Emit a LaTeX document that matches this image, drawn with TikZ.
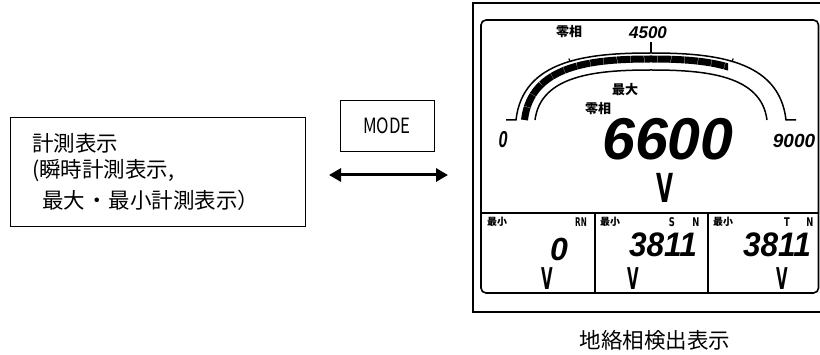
\documentclass[tikz,border=0pt]{standalone}
\usepackage{fontspec}
\usepackage{graphicx}
\usetikzlibrary{arrows.meta}
\setmainfont{Noto Sans CJK JP}
\newfontfamily\jp{Noto Sans CJK JP}
\newfontfamily\lcdfont{Liberation Sans}
\newfontfamily\lcdheavy{DejaVu Sans}
% #1 xscale, #2 size, #3 text  (bold italic digits)
\newcommand\lcdnum[3]{\scalebox{#1}[1]{\fontsize{#2}{#2}\selectfont\lcdfont\bfseries\itshape #3}}
\newcommand\lcdup[3]{\scalebox{#1}[1]{\fontsize{#2}{#2}\selectfont\lcdheavy\bfseries #3}}
\newcommand\lcdjp[3]{\scalebox{#1}[1]{\fontsize{#2}{#2}\selectfont\jp\bfseries #3}}
\newcommand\archpath[2]{(-#1,0) .. controls ({-0.95*#1},{-0.9*#2}) and ({-0.47*#1},{-#2}) .. (0,{-#2}) .. controls ({0.47*#1},{-#2}) and ({0.95*#1},{-0.9*#2}) .. (#1,0)}
\begin{document}
\begin{tikzpicture}[x=1pt,y=-1pt,
  plainbox/.style={draw, line width=0.9pt, inner sep=0pt},
  txt/.style={inner sep=0pt, font=\fontsize{21.5}{21.5}\selectfont\jp},
  lcd/.style={inner sep=0pt},
  frame/.style={line width=1.6pt},
  dblarrow/.style={line width=3pt, {Triangle[length=12pt,width=13pt]}-{Triangle[length=12pt,width=13pt]}},
  arcline/.style={line width=1.5pt},
]
\useasboundingbox (0,0) rectangle (820,355);
% left box
\node[plainbox, minimum width=295pt, minimum height=109pt, anchor=north west] (meas) at (10,117) {};
\node[txt, anchor=west] (t1) at (32,143) {計測表示};
\node[txt, anchor=west] (t2) at (32,171) {(瞬時計測表示,};
\node[txt, anchor=west] (t3) at (42,200) {最大\hspace{1pt}・\hspace{1pt}最小計測表示）};
% MODE
\node[plainbox, minimum width=94pt, minimum height=51pt] (mode) at (387,125.5) {\scalebox{0.8}[1]{\fontsize{21}{21}\selectfont\jp MODE}};
% arrow
\coordinate (al) at (329,175);
\coordinate (ar) at (448,175);
\draw[dblarrow] (al) -- (ar);
% LCD outer frame
\draw[frame] (822,3) -- (473,3) -- (473,312) -- (822,312);
\draw[frame, rounded corners=5pt] (481,20) rectangle (818.5,293);
\draw[frame] (481,213) -- (818.5,213);
\draw[frame] (595,213) -- (595,293);
\draw[frame] (708,213) -- (708,293);
% arc scale
\begin{scope}
  \clip (480,0) rectangle (728,130);
  \begin{scope}[shift={(651,120)}]
    \draw[line width=7pt, dash pattern=on 13pt off 0.5pt] \archpath{126.5}{61};
  \end{scope}
\end{scope}
\begin{scope}[shift={(651,120)}]
  \draw[arcline] (-145,0) -- \archpath{135}{67} -- (145,0);
  \draw[arcline] \archpath{116}{50};
  \draw[line width=2pt] (0,-67) -- (0,-78);
\end{scope}
\draw[line width=1.2pt] (570,61.5) -- (568.8,58.5);
\draw[line width=1.2pt] (732,61.5) -- (733.2,58.5);
% LCD texts (top)
\node[lcd] (zs1) at (569,32) {\lcdjp{1}{13}{零相}};
\node[lcd] (n4500) at (648,33) {\lcdnum{1}{17}{4500}};
\node[lcd] (mx) at (625,90) {\lcdjp{1}{13}{最大}};
\node[lcd] (zs2) at (598,109) {\lcdjp{1}{13}{零相}};
\node[lcd] (n0) at (503,140) {\lcdnum{0.7}{23}{0}};
\node[lcd] (n6600) at (668,139) {\lcdnum{1}{59}{6600}};
\node[lcd] (n9000) at (794,141) {\lcdnum{1}{19}{9000}};
\node[lcd] (vbig) at (665,188) {\lcdup{0.55}{40}{V}};
% bottom panels
\node[lcd] (mn1) at (497,222) {\lcdjp{1}{10}{最小}};
\node[lcd] (rn) at (581,222) {\lcdup{0.6}{12}{RN}};
\node[lcd] (b0) at (559,249) {\lcdnum{1}{32}{0}};
\node[lcd] (v1) at (547,279) {\lcdup{0.5}{30}{V}};
\node[lcd] (mn2) at (610,222) {\lcdjp{1}{10}{最小}};
\node[lcd] (ls) at (672,222) {\lcdup{0.7}{12}{S}};
\node[lcd] (ln2) at (696,222) {\lcdup{0.7}{12}{N}};
\node[lcd] (b3811a) at (663,245) {\lcdnum{0.93}{34}{3811}};
\node[lcd] (v2) at (633,279) {\lcdup{0.5}{30}{V}};
\node[lcd] (mn3) at (723,222) {\lcdjp{1}{10}{最小}};
\node[lcd] (lt) at (787,222) {\lcdup{0.7}{12}{T}};
\node[lcd] (ln3) at (810,222) {\lcdup{0.7}{12}{N}};
\node[lcd] (b3811b) at (777,245) {\lcdnum{0.93}{34}{3811}};
\node[lcd] (v3) at (782,279) {\lcdup{0.5}{30}{V}};
% caption
\node[txt] (cap) at (655,340) {地絡相検出表示};
\end{tikzpicture}
\end{document}
